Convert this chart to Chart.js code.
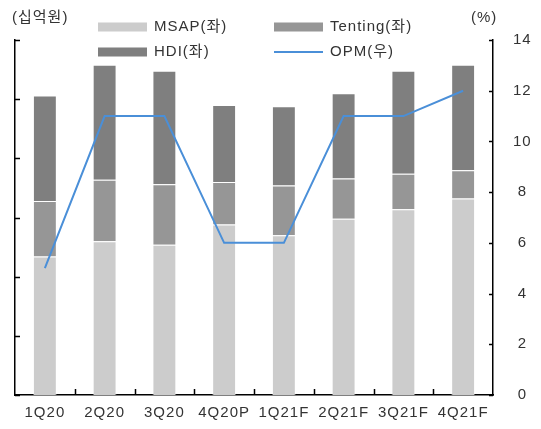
<!DOCTYPE html>
<html>
<head>
<meta charset="utf-8">
<script src="https://cdn.jsdelivr.net/npm/chart.js@4"></script>
<style>
  html, body { margin: 0; padding: 0; background: #fff; }
  #wrap { width: 541px; height: 429px; }
</style>
</head>
<body>
<div id="wrap"><canvas id="c" width="541" height="429"></canvas></div>
<script>
// Quarterly revenue by segment (십억원) and operating margin (%)
const quarters = ['1Q20', '2Q20', '3Q20', '4Q20P', '1Q21F', '2Q21F', '3Q21F', '4Q21F'];
const msap    = [117, 130, 127, 144, 135, 149, 157, 166];
const tenting = [47, 52, 51, 36, 42, 34, 30, 24];
const hdi     = [89, 97, 96, 65, 67, 72, 87, 89];
const opm     = [5, 11, 11, 6, 6, 11, 11, 12];

const leftTicks  = { min: 0, max: 300, step: 50 };
const rightTicks = { min: 0, max: 14, step: 2 };

const FONT = '"Liberation Sans", "Noto Sans CJK KR", sans-serif';
const TEXT = '#333';

const COLORS = {
  msap: '#cccccc',
  tenting: '#969696',
  hdi: '#7f7f7f',
  opm: '#4a8fd8'
};

// Slightly wider letter spacing for all canvas text
const spacingPlugin = {
  id: 'spacing',
  beforeUpdate(chart) { chart.ctx.letterSpacing = '1px'; },
  beforeDraw(chart) { chart.ctx.letterSpacing = '1px'; }
};

// Inward-pointing tick marks on all three axes
const innerTicks = {
  id: 'innerTicks',
  afterDatasetsDraw(chart) {
    const { ctx, chartArea, scales } = chart;
    ctx.save();
    ctx.strokeStyle = '#000';
    ctx.lineWidth = 1.5;
    ctx.beginPath();
    const y = scales.y;
    for (let v = leftTicks.min; v <= leftTicks.max; v += leftTicks.step) {
      const py = Math.round(y.getPixelForValue(v)) + 0.5;
      ctx.moveTo(chartArea.left, py);
      ctx.lineTo(chartArea.left + 5, py);
    }
    const y1 = scales.y1;
    for (let v = rightTicks.min; v <= rightTicks.max; v += rightTicks.step) {
      const py = Math.round(y1.getPixelForValue(v)) + 0.5;
      ctx.moveTo(chartArea.right, py);
      ctx.lineTo(chartArea.right - 4, py);
    }
    const x = scales.x;
    for (let i = 1; i < quarters.length; i++) {
      const px = Math.round((x.getPixelForValue(i - 1) + x.getPixelForValue(i)) / 2) + 0.5;
      ctx.moveTo(px, chartArea.bottom);
      ctx.lineTo(px, chartArea.bottom - 6);
    }
    ctx.stroke();
    ctx.restore();
  }
};

// Unit captions and the two-column legend
const captions = {
  id: 'captions',
  afterDraw(chart) {
    const { ctx } = chart;
    ctx.save();
    ctx.letterSpacing = '1px';
    ctx.font = '15px ' + FONT;
    ctx.fillStyle = TEXT;
    ctx.textBaseline = 'middle';
    ctx.textAlign = 'left';
    ctx.fillText('(십억원)', 12, 18);
    ctx.fillText('(%)', 471, 18);

    const items = [
      { label: 'MSAP(좌)',    color: COLORS.msap,    x: 98,  y: 27, type: 'box' },
      { label: 'Tenting(좌)', color: COLORS.tenting, x: 274, y: 27, type: 'box' },
      { label: 'HDI(좌)',     color: COLORS.hdi,     x: 98,  y: 52, type: 'box' },
      { label: 'OPM(우)',     color: COLORS.opm,     x: 274, y: 52, type: 'line' }
    ];
    items.forEach(it => {
      if (it.type === 'box') {
        ctx.fillStyle = it.color;
        ctx.fillRect(it.x, it.y - 4.5, 49, 9);
      } else {
        ctx.strokeStyle = it.color;
        ctx.lineWidth = 2;
        ctx.beginPath();
        ctx.moveTo(it.x, it.y);
        ctx.lineTo(it.x + 49, it.y);
        ctx.stroke();
      }
      ctx.fillStyle = TEXT;
      ctx.fillText(it.label, it.x + 56, it.y);
    });
    ctx.restore();
  }
};

new Chart(document.getElementById('c'), {
  data: {
    labels: quarters,
    datasets: [
      {
        type: 'line', label: 'OPM(우)', data: opm, yAxisID: 'y1',
        borderColor: COLORS.opm, borderWidth: 2, pointRadius: 0,
        tension: 0, fill: false, order: 0
      },
      {
        type: 'bar', label: 'MSAP(좌)', data: msap, yAxisID: 'y', stack: 's',
        backgroundColor: COLORS.msap, borderColor: 'rgba(255,255,255,0.35)', borderWidth: 1,
        barPercentage: 0.4, categoryPercentage: 1, order: 1
      },
      {
        type: 'bar', label: 'Tenting(좌)', data: tenting, yAxisID: 'y', stack: 's',
        backgroundColor: COLORS.tenting, borderColor: 'rgba(255,255,255,0.35)', borderWidth: 1,
        barPercentage: 0.4, categoryPercentage: 1, order: 1
      },
      {
        type: 'bar', label: 'HDI(좌)', data: hdi, yAxisID: 'y', stack: 's',
        backgroundColor: COLORS.hdi, borderColor: 'rgba(255,255,255,0.35)', borderWidth: 1,
        barPercentage: 0.4, categoryPercentage: 1, order: 1
      }
    ]
  },
  options: {
    responsive: false,
    animation: false,
    devicePixelRatio: 1,
    layout: { padding: { left: 15, top: 40, right: 0, bottom: 0 } },
    plugins: { legend: { display: false }, tooltip: { enabled: false } },
    scales: {
      x: {
        stacked: true,
        offset: true,
        grid: { display: false },
        border: { display: true, color: '#000', width: 1.5 },
        ticks: { color: TEXT, font: { family: FONT, size: 15 }, padding: 1, maxRotation: 0, autoSkip: false },
        afterFit(s) { s.height = 34; }
      },
      y: {
        stacked: true,
        position: 'left',
        min: leftTicks.min, max: leftTicks.max,
        ticks: { display: false, stepSize: leftTicks.step },
        grid: { display: false },
        border: { display: true, color: '#000', width: 1.5 },
        afterFit(s) { s.width = 0; }
      },
      y1: {
        position: 'right',
        min: rightTicks.min, max: rightTicks.max,
        ticks: { stepSize: rightTicks.step, color: TEXT, font: { family: FONT, size: 15 }, padding: 12, crossAlign: 'center' },
        grid: { display: false },
        border: { display: true, color: '#000', width: 1.5 },
        afterFit(s) { s.width = 48; }
      }
    }
  },
  plugins: [spacingPlugin, innerTicks, captions]
});
</script>
</body>
</html>
